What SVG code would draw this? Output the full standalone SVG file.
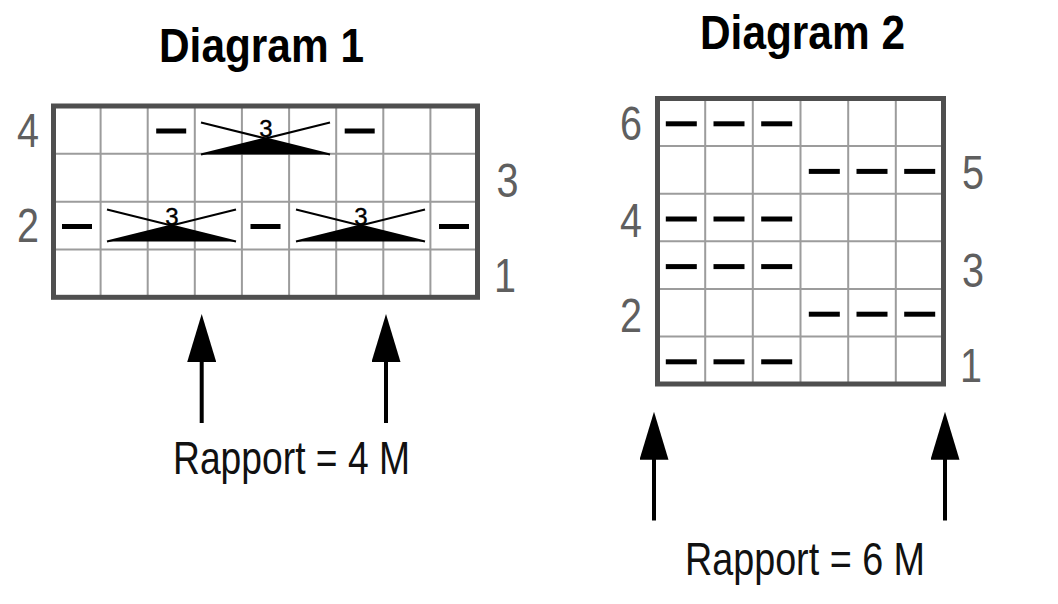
<svg xmlns="http://www.w3.org/2000/svg" xmlns:xlink="http://www.w3.org/1999/xlink" width="1058" height="604" viewBox="0 0 1058 604">
<style>
.title{font-family:"Liberation Sans",Arial,sans-serif;font-weight:bold;font-size:48px;fill:#000}
.lbl{font-family:"Liberation Sans",Arial,sans-serif;font-size:48px;fill:#5f5f5f;text-anchor:middle}
.rap{font-family:"Liberation Sans",Arial,sans-serif;font-size:47px;fill:#111}
.num3{font-family:"Liberation Sans",Arial,sans-serif;fill:#000;stroke:#000;stroke-width:0.4;text-anchor:middle}
.grid{stroke:#9c9c9c;stroke-width:2;fill:none}
.frame{stroke:#4f4f4f;stroke-width:5;fill:none}
.dash{fill:#000}
.xl{stroke:#000;stroke-width:2}
.arr{stroke:#000;stroke-width:4;fill:none}
</style>
<defs>
<g id="cross">
<line class="xl" x1="0" y1="0" x2="129" y2="32"/>
<line class="xl" x1="129" y1="0" x2="0" y2="32"/>
<polygon points="0,32 129,32 64.5,16" fill="#000"/>
</g>
<marker id="head" viewBox="0 0 48 29" refX="22" refY="14.5" markerWidth="48" markerHeight="29" markerUnits="userSpaceOnUse" orient="auto">
<path d="M0,0 L48,14.5 L0,29 Z" fill="#000"/>
</marker>
</defs>
<rect width="1058" height="604" fill="#fff"/>

<g id="diagram1">
<text class="title" x="159" y="62" textLength="205" lengthAdjust="spacingAndGlyphs">Diagram 1</text>
<g id="d1-grid">
<path class="grid" d="M100.6,106V297.3M147.7,106V297.3M194.8,106V297.3M241.9,106V297.3M289.1,106V297.3M336.2,106V297.3M383.3,106V297.3M430.4,106V297.3M53.5,153.8H477.5M53.5,201.7H477.5M53.5,249.5H477.5"/>
<rect class="frame" x="53.5" y="106" width="424" height="191.3"/>
</g>
<g id="d1-row4">
<rect class="dash" x="156.2" y="128.5" width="30" height="5"/>
<use xlink:href="#cross" x="201" y="122.5"/>
<text class="num3" x="266" y="137" font-size="24">3</text>
<rect class="dash" x="344.7" y="128.5" width="30" height="5"/>
</g>
<g id="d1-row2">
<rect class="dash" x="62" y="224" width="30" height="5"/>
<use xlink:href="#cross" x="107" y="209.5"/>
<text class="num3" x="172" y="225" font-size="24">3</text>
<rect class="dash" x="250.5" y="224" width="30" height="5"/>
<use xlink:href="#cross" x="296" y="209.5"/>
<text class="num3" x="361" y="225" font-size="24">3</text>
<rect class="dash" x="439" y="224" width="30" height="5"/>
</g>
<g id="d1-labels">
<text class="lbl" x="28" y="146.5" textLength="22" lengthAdjust="spacingAndGlyphs">4</text>
<text class="lbl" x="28" y="241.7" textLength="22" lengthAdjust="spacingAndGlyphs">2</text>
<text class="lbl" x="507.5" y="196.7" textLength="22" lengthAdjust="spacingAndGlyphs">3</text>
<text class="lbl" x="505" y="291.7" textLength="22" lengthAdjust="spacingAndGlyphs">1</text>
</g>
<text class="rap" x="173" y="474" textLength="237" lengthAdjust="spacingAndGlyphs">Rapport = 4 M</text>
</g>

<g id="diagram2">
<text class="title" x="700" y="49" textLength="205" lengthAdjust="spacingAndGlyphs">Diagram 2</text>
<g id="d2-grid">
<path class="grid" d="M705.2,98.5V384M752.8,98.5V384M800.5,98.5V384M848.2,98.5V384M895.8,98.5V384M657.5,146.1H943.5M657.5,193.7H943.5M657.5,241.3H943.5M657.5,288.9H943.5M657.5,336.5H943.5"/>
<rect class="frame" x="657.5" y="98.5" width="286" height="285.5"/>
</g>
<g id="d2-dashes">
<rect class="dash" x="665.8" y="121.3" width="31" height="5"/>
<rect class="dash" x="713.5" y="121.3" width="31" height="5"/>
<rect class="dash" x="761.2" y="121.3" width="31" height="5"/>
<rect class="dash" x="808.8" y="168.9" width="31" height="5"/>
<rect class="dash" x="856.5" y="168.9" width="31" height="5"/>
<rect class="dash" x="904.2" y="168.9" width="31" height="5"/>
<rect class="dash" x="665.8" y="216.5" width="31" height="5"/>
<rect class="dash" x="713.5" y="216.5" width="31" height="5"/>
<rect class="dash" x="761.2" y="216.5" width="31" height="5"/>
<rect class="dash" x="665.8" y="264.1" width="31" height="5"/>
<rect class="dash" x="713.5" y="264.1" width="31" height="5"/>
<rect class="dash" x="761.2" y="264.1" width="31" height="5"/>
<rect class="dash" x="808.8" y="311.7" width="31" height="5"/>
<rect class="dash" x="856.5" y="311.7" width="31" height="5"/>
<rect class="dash" x="904.2" y="311.7" width="31" height="5"/>
<rect class="dash" x="665.8" y="359.3" width="31" height="5"/>
<rect class="dash" x="713.5" y="359.3" width="31" height="5"/>
<rect class="dash" x="761.2" y="359.3" width="31" height="5"/>
</g>
<g id="d2-labels">
<text class="lbl" x="631" y="140" textLength="22" lengthAdjust="spacingAndGlyphs">6</text>
<text class="lbl" x="631" y="237" textLength="22" lengthAdjust="spacingAndGlyphs">4</text>
<text class="lbl" x="631" y="331.7" textLength="22" lengthAdjust="spacingAndGlyphs">2</text>
<text class="lbl" x="973" y="189" textLength="22" lengthAdjust="spacingAndGlyphs">5</text>
<text class="lbl" x="973" y="286.5" textLength="22" lengthAdjust="spacingAndGlyphs">3</text>
<text class="lbl" x="971" y="381.7" textLength="22" lengthAdjust="spacingAndGlyphs">1</text>
</g>
<text class="rap" x="685" y="575" textLength="240" lengthAdjust="spacingAndGlyphs">Rapport = 6 M</text>
</g>

<g id="connectors">
<line class="arr" x1="201.7" y1="423" x2="201.7" y2="340" marker-end="url(#head)"/>
<line class="arr" x1="386" y1="423" x2="386" y2="340" marker-end="url(#head)"/>
<line class="arr" x1="654" y1="520.5" x2="654" y2="437.7" marker-end="url(#head)"/>
<line class="arr" x1="945" y1="520.5" x2="945" y2="437.7" marker-end="url(#head)"/>
</g>
</svg>
